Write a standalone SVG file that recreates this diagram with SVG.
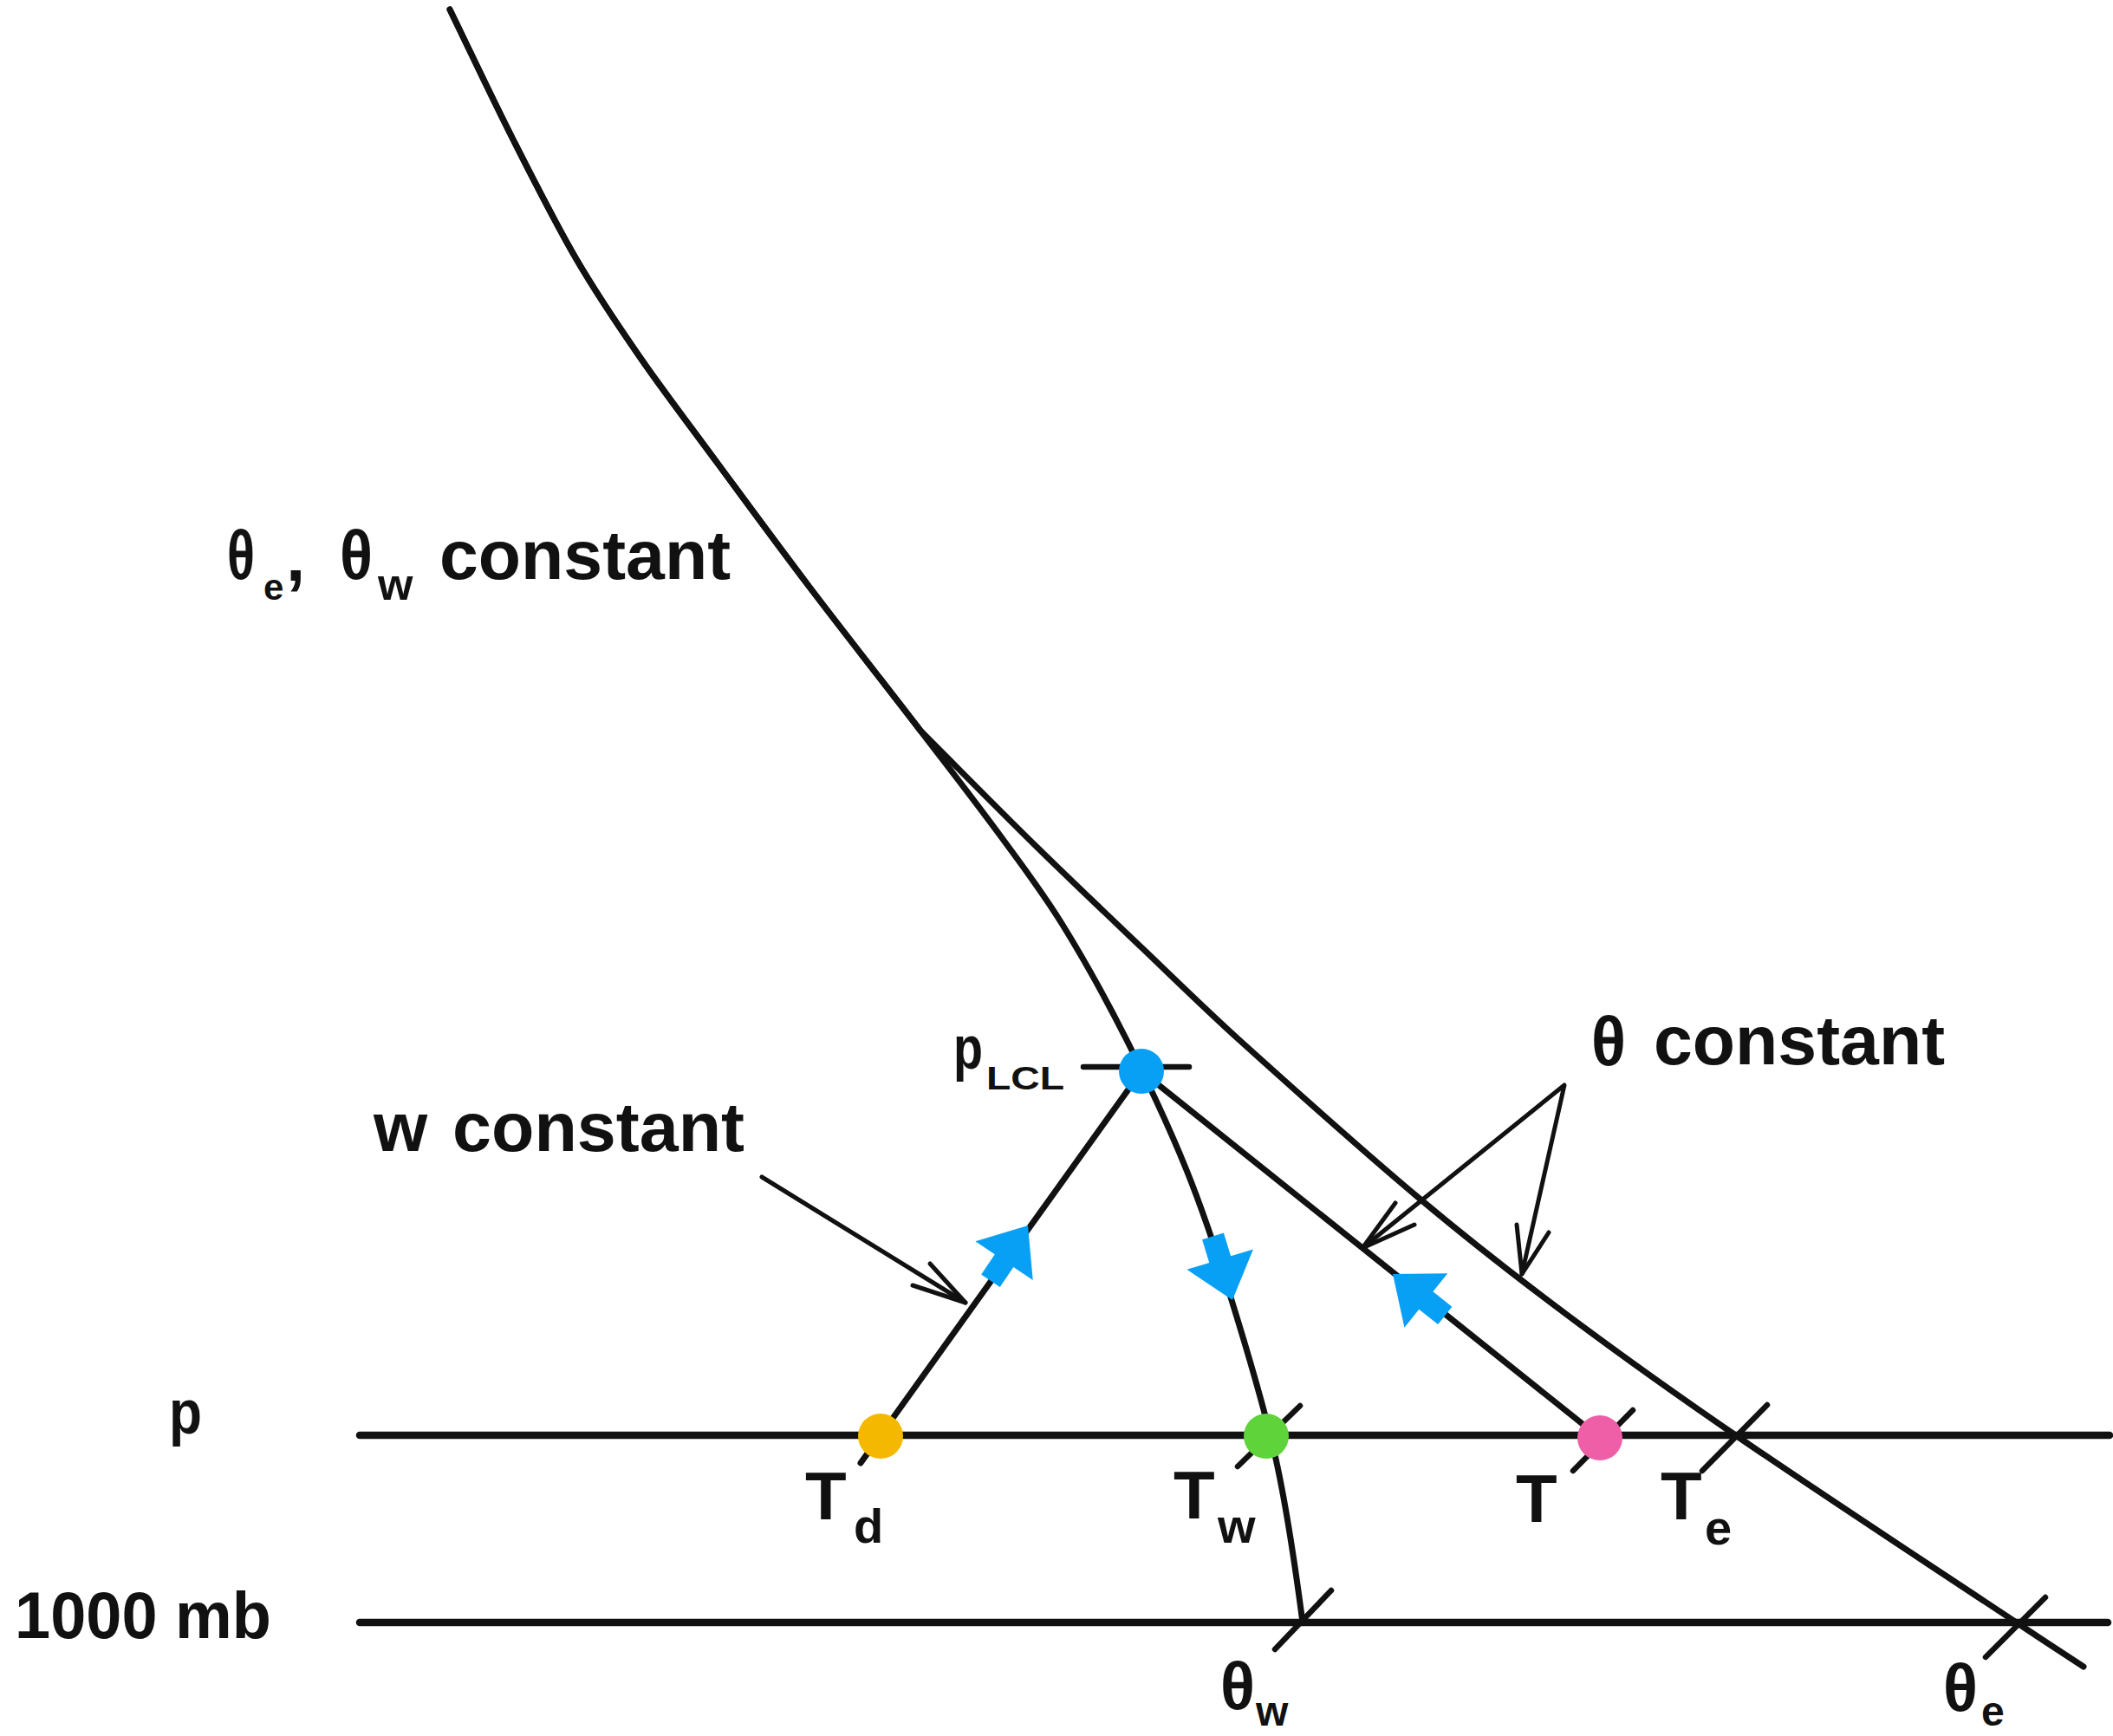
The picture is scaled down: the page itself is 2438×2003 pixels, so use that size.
<svg xmlns="http://www.w3.org/2000/svg" xmlns:xlink="http://www.w3.org/1999/xlink" width="2438" height="2003" viewBox="0 0 2438 2003">
<style>
.ln{fill:none;stroke:#111;stroke-linecap:round;stroke-linejoin:round}
.curve{stroke-width:7}
.level{stroke-width:8.5}
.tick{stroke-width:6.5}
.ann{stroke-width:5}
.t{font-family:"Liberation Sans",Arial,sans-serif;font-weight:bold;fill:#111}
.big{font-size:80px}
.sub{font-size:56px}
.blue{fill:#08A0F5}
</style>
<defs>
<path id="blueArrow" d="M0,0 L-49,40 L-49,13 L-77,13 L-77,-13 L-49,-13 L-49,-40 Z"/>
</defs>
<rect width="2438" height="2003" fill="#fff"/>
<g id="connectors">
<!-- pressure levels -->
<line class="ln level" x1="415" y1="1656" x2="2434" y2="1656"/>
<line class="ln level" x1="415" y1="1872" x2="2432" y2="1872"/>
<!-- theta_e pseudo-adiabat -->
<path class="ln curve" d="M519,11 C543.3,61 567.7,113 592,161 C616.3,209 640.5,257 665,299 C689.5,341 711.7,373.5 739,413 C766.3,452.5 796.7,492.2 829,536 C861.3,579.8 894.2,624.8 933,676 C971.8,727.2 1025.2,795 1062,843 C1106,887 1149.6,931.5 1194,975 C1234.9,1015.1 1276.5,1054.5 1318,1094 C1355.2,1129.5 1391.9,1165.6 1430,1200 C1498.5,1261.8 1567.3,1323.7 1638,1383 C1693.3,1429.4 1750.2,1473.8 1808,1517 C1872.3,1565.1 1937.8,1611.6 2004,1657 C2111.1,1730.3 2219.9,1801.1 2328,1873 C2353.2,1889.8 2378.7,1906.4 2404,1923"/>
<!-- theta_w pseudo-adiabat -->
<path class="ln curve" d="M519,11 C543.3,61 567.7,113 592,161 C616.3,209 640.5,257 665,299 C689.5,341 711.7,373.5 739,413 C766.3,452.5 796.7,492.2 829,536 C861.3,579.8 894.2,624.8 933,676 C971.8,727.2 1025.2,795 1062,843 C1098.8,891 1126.7,926.7 1154,964 C1181.3,1001.3 1201.7,1027.7 1226,1067 C1250.3,1106.3 1276.2,1152.8 1300,1200 C1323.8,1247.2 1348.8,1300 1369,1350 C1389.2,1400 1403.8,1444.5 1421,1500 C1438.2,1555.5 1458.3,1621 1472,1683 C1485.7,1745 1494.7,1809 1503,1872"/>
<!-- dry adiabat T to LCL -->
<line class="ln curve" x1="1317" y1="1236" x2="1846" y2="1659"/>
<!-- w constant line Td to LCL -->
<line class="ln curve" x1="1317" y1="1236" x2="993" y2="1688"/>
<!-- LCL dash -->
<line class="ln tick" x1="1250" y1="1231" x2="1372" y2="1231"/>
<!-- ticks -->
<line class="ln tick" x1="1428" y1="1692" x2="1500" y2="1622"/>
<line class="ln tick" x1="1815" y1="1697" x2="1884" y2="1627"/>
<line class="ln tick" x1="2039" y1="1621" x2="1964" y2="1697"/>
<line class="ln tick" x1="1536" y1="1835" x2="1471" y2="1903"/>
<line class="ln tick" x1="2360" y1="1843" x2="2291" y2="1912"/>
<!-- annotation arrows -->
<line class="ln ann" x1="879" y1="1358" x2="1114" y2="1503"/>
<polyline class="ln ann" points="1073,1458 1114,1503 1053,1483"/>
<polyline class="ln ann" points="1572,1440 1805,1252 1756,1470"/>
<polyline class="ln ann" points="1610,1388 1572,1440 1632,1413"/>
<polyline class="ln ann" points="1750,1413 1756,1470 1787,1422"/>
<!-- blue process arrows -->
<use xlink:href="#blueArrow" class="blue" transform="translate(1186,1414) rotate(-56)"/>
<use xlink:href="#blueArrow" class="blue" transform="translate(1422,1500) rotate(73)"/>
<use xlink:href="#blueArrow" class="blue" transform="translate(1607,1470) rotate(-141.5)"/>
</g>
<g id="node-lcl"><circle cx="1317" cy="1236" r="26" fill="#08A0F5"/></g>
<g id="node-td"><circle cx="1016" cy="1657" r="26" fill="#F5B800"/></g>
<g id="node-tw"><circle cx="1461" cy="1657" r="26" fill="#5FD33A"/></g>
<g id="node-t"><circle cx="1846" cy="1659" r="26" fill="#EE5FA7"/></g>
<g id="labels">
<g id="label-thetae-thetaw-constant">
<text class="t big" x="262" y="668" textLength="32" lengthAdjust="spacingAndGlyphs">θ</text>
<text class="t" x="304" y="692" font-size="42">e</text>
<text class="t big" x="330" y="670">,</text>
<text class="t big" x="392" y="668" textLength="38" lengthAdjust="spacingAndGlyphs">θ</text>
<text class="t" x="436" y="692" font-size="52">w</text>
<text class="t big" x="507" y="668" textLength="336" lengthAdjust="spacingAndGlyphs">constant</text>
</g>
<g id="label-theta-constant">
<text class="t big" x="1836" y="1229" textLength="40" lengthAdjust="spacingAndGlyphs">θ</text>
<text class="t big" x="1908" y="1228" textLength="336" lengthAdjust="spacingAndGlyphs">constant</text>
</g>
<g id="label-w-constant">
<text class="t big" x="431" y="1328">w</text>
<text class="t big" x="522" y="1328" textLength="337" lengthAdjust="spacingAndGlyphs">constant</text>
</g>
<g id="label-plcl">
<text class="t" x="1100" y="1233" font-size="70" textLength="34" lengthAdjust="spacingAndGlyphs">p</text>
<text class="t" x="1138" y="1257" font-size="36" textLength="90" lengthAdjust="spacingAndGlyphs">LCL</text>
</g>
<text id="label-p" class="t" x="195" y="1654" font-size="72" textLength="38" lengthAdjust="spacingAndGlyphs">p</text>
<text id="label-1000mb" class="t" x="17" y="1890" font-size="76" textLength="296" lengthAdjust="spacingAndGlyphs">1000 mb</text>
<g id="label-td">
<text class="t" x="929" y="1753" font-size="78">T</text>
<text class="t sub" x="985" y="1780">d</text>
</g>
<g id="label-tw">
<text class="t" x="1354" y="1752" font-size="78">T</text>
<text class="t sub" x="1405" y="1780">w</text>
</g>
<text id="label-t" class="t" x="1749" y="1756" font-size="78">T</text>
<g id="label-te">
<text class="t" x="1916" y="1753" font-size="78">T</text>
<text class="t sub" x="1967" y="1782">e</text>
</g>
<g id="label-thetaw">
<text class="t" x="1408" y="1973" font-size="78" textLength="40" lengthAdjust="spacingAndGlyphs">θ</text>
<text class="t" x="1449" y="1991" font-size="48">w</text>
</g>
<g id="label-thetae">
<text class="t" x="2242" y="1975" font-size="78" textLength="40" lengthAdjust="spacingAndGlyphs">θ</text>
<text class="t" x="2286" y="1991" font-size="48">e</text>
</g>
</g>
</svg>
